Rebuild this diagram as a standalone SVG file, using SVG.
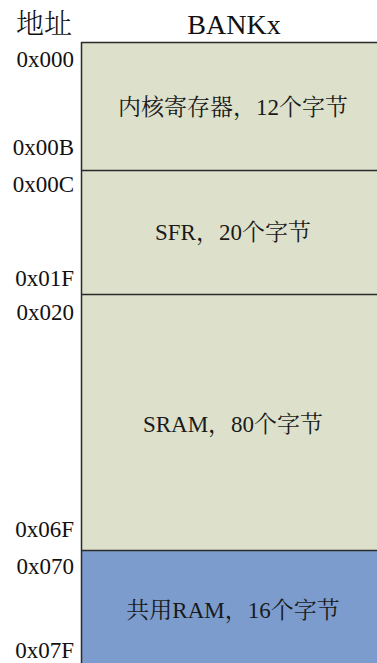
<svg xmlns="http://www.w3.org/2000/svg" width="377" height="663" viewBox="0 0 377 663">
<style>
.blk{stroke:#2a2a2a;stroke-width:1.5}
.g{fill:#dde1cb}
.b{fill:#7b9ccd}
.addr{font-family:"Liberation Serif","Noto Serif CJK SC","Noto Sans CJK SC",serif;font-size:23px;fill:#111;text-anchor:end}
.lbl{font-family:"Noto Serif CJK SC","Noto Sans CJK SC",serif;font-size:23px;fill:#1a1a1a;text-anchor:middle}
.lat{font-family:"Liberation Serif",serif}
.hd{font-family:"Liberation Serif","Noto Serif CJK SC","Noto Sans CJK SC",serif;font-size:28px;fill:#111;text-anchor:middle}
.hz{font-family:"Noto Serif CJK SC","Noto Sans CJK SC",serif;font-weight:300}
</style>
<rect width="377" height="663" fill="#ffffff"/>
<g id="header">
<text class="hd hz" x="44" y="34">地址</text>
<text class="hd" x="234" y="34">BANKx</text>
</g>
<g id="core">
<rect class="g" x="82" y="42.5" width="300" height="128"/>
<text class="lbl" x="233" y="115">内核寄存器，<tspan class="lat">12</tspan>个字节</text>
<text class="addr" x="74" y="67">0x000</text>
<text class="addr" x="74" y="155">0x00B</text>
</g>
<g id="sfr">
<rect class="g" x="82" y="170.5" width="300" height="124"/>
<text class="lbl" x="233" y="240"><tspan class="lat">SFR</tspan>，<tspan class="lat">20</tspan>个字节</text>
<text class="addr" x="74" y="192">0x00C</text>
<text class="addr" x="74" y="286">0x01F</text>
</g>
<g id="sram">
<rect class="g" x="82" y="294.5" width="300" height="256"/>
<text class="lbl" x="233" y="432"><tspan class="lat">SRAM</tspan>，<tspan class="lat">80</tspan>个字节</text>
<text class="addr" x="74" y="320">0x020</text>
<text class="addr" x="74" y="537">0x06F</text>
</g>
<g id="shared">
<rect class="b" x="82" y="550.5" width="300" height="120"/>
<text class="lbl" x="233" y="618">共用<tspan class="lat">RAM</tspan>，<tspan class="lat">16</tspan>个字节</text>
<text class="addr" x="74" y="574">0x070</text>
<text class="addr" x="74" y="658">0x07F</text>
</g>
<g id="lines">
<line class="blk" x1="81.5" y1="42.5" x2="377" y2="42.5"/>
<line class="blk" x1="81.5" y1="170.5" x2="377" y2="170.5"/>
<line class="blk" x1="81.5" y1="294.5" x2="377" y2="294.5"/>
<line class="blk" x1="81.5" y1="550.5" x2="377" y2="550.5"/>
<line class="blk" x1="81.5" y1="42" x2="81.5" y2="663"/>
</g>
</svg>
